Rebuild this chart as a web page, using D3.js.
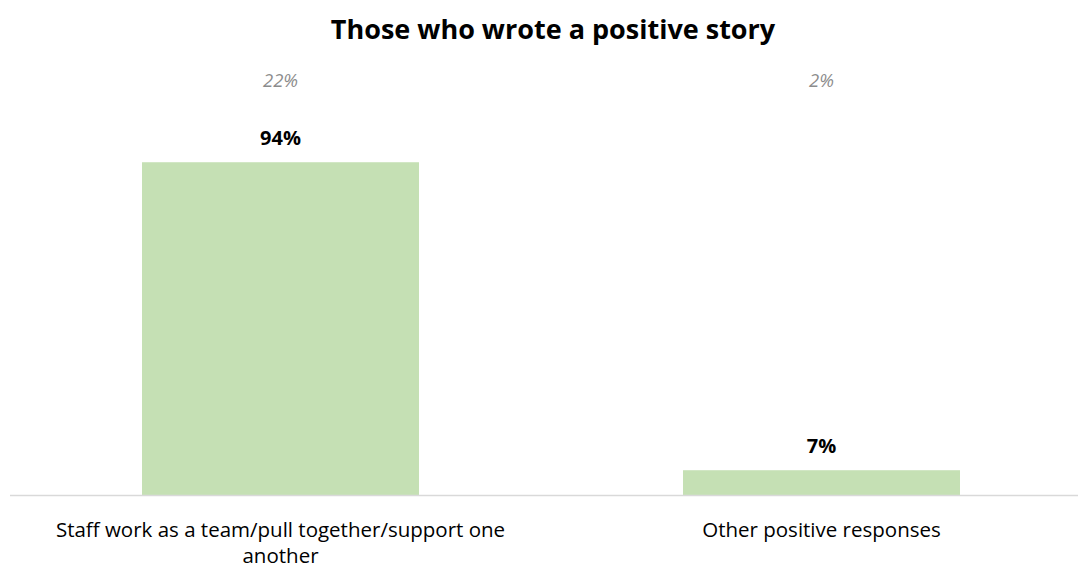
<!DOCTYPE html>
<html><head><meta charset="utf-8">
<script src="https://cdn.jsdelivr.net/npm/d3@7"></script>
<style>body{margin:0;background:#fff}svg{display:block}</style>
</head><body>
<svg id="c" width="1078" height="568"></svg>
<script>
const categories = ["Staff work as a team/pull together/support one another", "Other positive responses"];
const categoryLines = [["Staff work as a team/pull together/support one", "another"], ["Other positive responses"]];
const values = [94, 7];
const shareLabels = ["22%", "2%"];
const title = "Those who wrote a positive story";

const svg = d3.select("#c");
const font = "'Open Sans', sans-serif";
const x = d3.scaleBand().domain(categories).range([10, 1092]).paddingInner(0.488).paddingOuter(0.244);
const y = d3.scaleLinear().domain([0, 100]).range([495, 141]);

svg.append("text").attr("x", 553).attr("y", 39).attr("text-anchor", "middle")
  .attr("font-family", font).attr("font-weight", "bold").attr("font-size", 27).attr("fill", "#000").text(title);

svg.selectAll("rect.bar").data(values).join("rect").attr("class", "bar")
  .attr("x", (d, i) => x(categories[i])).attr("width", x.bandwidth())
  .attr("y", d => y(d)).attr("height", d => y(0) - y(d)).attr("fill", "#c5e0b4");

svg.append("line").attr("x1", 10).attr("x2", 1078).attr("y1", 495.5).attr("y2", 495.5)
  .attr("stroke", "#d9d9d9").attr("stroke-width", 1.5);

svg.selectAll("text.val").data(values).join("text").attr("class", "val")
  .attr("x", (d, i) => x(categories[i]) + x.bandwidth() / 2).attr("y", d => y(d) - 17)
  .attr("text-anchor", "middle").attr("font-family", font).attr("font-weight", "bold")
  .attr("font-size", 20).attr("fill", "#000").text(d => d + "%");

svg.selectAll("text.share").data(shareLabels).join("text").attr("class", "share")
  .attr("x", (d, i) => x(categories[i]) + x.bandwidth() / 2).attr("y", 87)
  .attr("text-anchor", "middle").attr("font-family", font).attr("font-style", "italic")
  .attr("font-size", 18.5).attr("fill", "#8c8c8c").text(d => d);

categories.forEach((c, i) => {
  const t = svg.append("text").attr("text-anchor", "middle").attr("font-family", font)
    .attr("font-size", 20.5).attr("fill", "#000");
  categoryLines[i].forEach((ln, j) => {
    t.append("tspan").attr("x", x(c) + x.bandwidth() / 2).attr("y", 537 + j * 26).text(ln);
  });
});
</script>
</body></html>
